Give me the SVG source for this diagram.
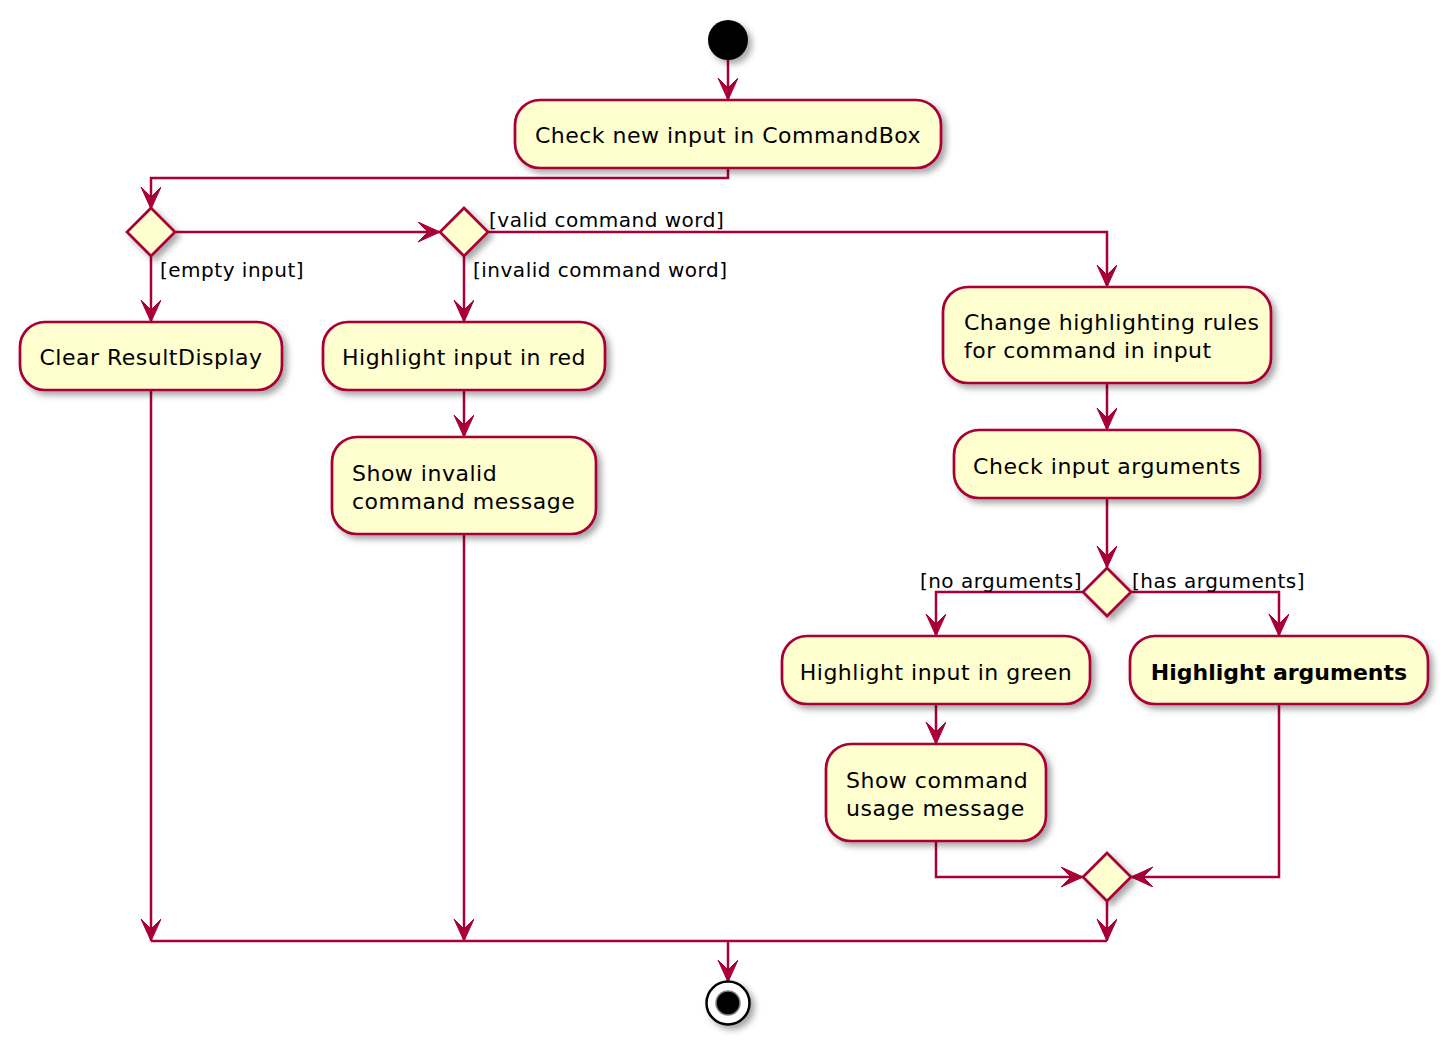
<svg xmlns="http://www.w3.org/2000/svg" width="1448" height="1045" viewBox="0 0 1448 1045">
  <style>
    .act { fill: #FEFECE; stroke: #A80036; stroke-width: 2.7; filter: url(#shadow); }
    .dia { fill: #FEFECE; stroke: #A80036; stroke-width: 2.7; filter: url(#shadow); }
    .edge { fill: none; stroke: #A80036; stroke-width: 2.5; }
    .arrow { marker-end: url(#head); }
    .lbl { font-family: "DejaVu Sans", "Liberation Sans", sans-serif; font-size: 22px; letter-spacing: 0.5px; fill: #000; }
    .mid { text-anchor: middle; }
    .guard { font-family: "DejaVu Sans", "Liberation Sans", sans-serif; font-size: 20px; letter-spacing: 0.5px; fill: #000; }
    .bold { font-weight: bold; letter-spacing: 0; }
  </style>
  <defs>
    <filter id="shadow" x="-20%" y="-20%" width="150%" height="160%">
      <feDropShadow dx="4" dy="4" stdDeviation="3" flood-color="#000" flood-opacity="0.35"/>
    </filter>
    <marker id="head" markerUnits="userSpaceOnUse" markerWidth="24" markerHeight="22" refX="22" refY="10" orient="auto">
      <path d="M0,0 L22,10 L0,20 L10,10 Z" fill="#A80036" stroke="#A80036" stroke-width="1"/>
    </marker>
  </defs>

  <rect width="1448" height="1045" fill="#FFFFFF"/>

  <g id="connectors">
    <path class="edge arrow" d="M728,60 L728,100"/>
    <path class="edge arrow" d="M728,168 L728,178 L151,178 L151,209"/>
    <path class="edge arrow" d="M176,232 L440,232"/>
    <path class="edge arrow" d="M488,232 L1107,232 L1107,287"/>
    <path class="edge arrow" d="M151,256 L151,322"/>
    <path class="edge arrow" d="M464,256 L464,322"/>
    <path class="edge arrow" d="M464,390 L464,437"/>
    <path class="edge arrow" d="M1107,383 L1107,430"/>
    <path class="edge arrow" d="M1107,498 L1107,568"/>
    <path class="edge arrow" d="M1083,592 L936,592 L936,636"/>
    <path class="edge arrow" d="M1131,592 L1279,592 L1279,636"/>
    <path class="edge arrow" d="M936,704 L936,744"/>
    <path class="edge arrow" d="M936,841 L936,877 L1083,877"/>
    <path class="edge arrow" d="M1279,704 L1279,877 L1131,877"/>
    <path class="edge arrow" d="M151,390 L151,941"/>
    <path class="edge arrow" d="M464,534 L464,941"/>
    <path class="edge arrow" d="M1107,901 L1107,941"/>
    <path class="edge" d="M151,941 L1107,941"/>
    <path class="edge arrow" d="M728,941 L728,982"/>
    <text class="guard" x="489" y="227">[valid command word]</text>
    <text class="guard" x="160" y="277">[empty input]</text>
    <text class="guard" x="473" y="277">[invalid command word]</text>
    <text class="guard" x="1082" y="588" text-anchor="end">[no arguments]</text>
    <text class="guard" x="1132" y="588">[has arguments]</text>
  </g>

  <g id="start">
    <circle cx="728" cy="40" r="20" fill="#000" filter="url(#shadow)"/>
  </g>

  <g id="check-input">
    <rect class="act" x="515" y="100" width="426" height="68" rx="25"/>
    <text class="lbl mid" x="728" y="143">Check new input in CommandBox</text>
  </g>

  <g id="decision-empty">
    <polygon class="dia" points="151,208 175,232 151,256 127,232"/>
  </g>

  <g id="decision-command">
    <polygon class="dia" points="464,208 488,232 464,256 440,232"/>
  </g>

  <g id="clear-result">
    <rect class="act" x="20" y="322" width="262" height="68" rx="25"/>
    <text class="lbl mid" x="151" y="365">Clear ResultDisplay</text>
  </g>

  <g id="highlight-red">
    <rect class="act" x="323" y="322" width="282" height="68" rx="25"/>
    <text class="lbl mid" x="464" y="365">Highlight input in red</text>
  </g>

  <g id="show-invalid">
    <rect class="act" x="332" y="437" width="264" height="97" rx="25"/>
    <text class="lbl" x="352" y="481">Show invalid</text>
    <text class="lbl" x="352" y="509">command message</text>
  </g>

  <g id="change-rules">
    <rect class="act" x="943" y="287" width="328" height="96" rx="25"/>
    <text class="lbl" x="964" y="330">Change highlighting rules</text>
    <text class="lbl" x="964" y="358">for command in input</text>
  </g>

  <g id="check-args">
    <rect class="act" x="954" y="430" width="306" height="68" rx="25"/>
    <text class="lbl mid" x="1107" y="474">Check input arguments</text>
  </g>

  <g id="decision-args">
    <polygon class="dia" points="1107,568 1131,592 1107,616 1083,592"/>
  </g>

  <g id="highlight-green">
    <rect class="act" x="782" y="636" width="308" height="68" rx="25"/>
    <text class="lbl mid" x="936" y="680">Highlight input in green</text>
  </g>

  <g id="highlight-args">
    <rect class="act" x="1130" y="636" width="298" height="68" rx="25"/>
    <text class="lbl mid bold" x="1279" y="680">Highlight arguments</text>
  </g>

  <g id="show-usage">
    <rect class="act" x="826" y="744" width="220" height="97" rx="25"/>
    <text class="lbl" x="846" y="788">Show command</text>
    <text class="lbl" x="846" y="816">usage message</text>
  </g>

  <g id="merge-args">
    <polygon class="dia" points="1107,853 1131,877 1107,901 1083,877"/>
  </g>

  <g id="end">
    <circle cx="728" cy="1003" r="21.5" fill="#FFFFFF" stroke="#000" stroke-width="2.5" filter="url(#shadow)"/>
    <circle cx="728" cy="1003" r="12" fill="#000" stroke="#7f7f7f" stroke-width="1.5"/>
  </g>
</svg>
